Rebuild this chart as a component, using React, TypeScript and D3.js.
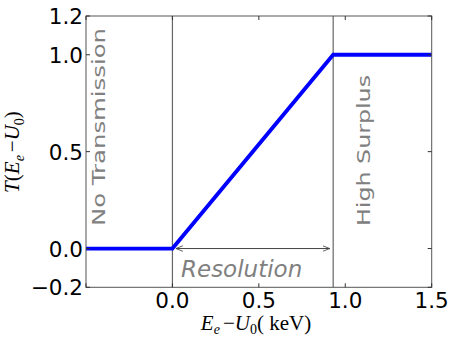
import React from "react";
import * as d3 from "d3";

const width = 474;
const height = 339;

// transmission curve T(E_e - U_0)
const energy = [-0.5, 0.0, 0.93, 1.5];
const transmission = [0, 0, 1, 1];
const resolutionEdges = [0.0, 0.93];

const xTicks = [-0.5, 0.0, 0.5, 1.0, 1.5];
const xTickLabels = ["", "0.0", "0.5", "1.0", "1.5"];
const yTicks = [-0.2, 0.0, 0.5, 1.0, 1.2];
const yTickLabels = ["\u22120.2", "0.0", "0.5", "1.0", "1.2"];

const x = d3.scaleLinear().domain([-0.5, 1.5]).range([86, 431.7]);
const y = d3.scaleLinear().domain([-0.2, 1.2]).range([287.3, 16]);

const sans = "DejaVu Sans, sans-serif";
const serif = "Liberation Serif, DejaVu Serif, serif";
const grey = "#808080";

export default function App() {
  const line = d3
    .line<number>()
    .x((_, i) => x(energy[i]))
    .y((d) => y(d));

  const [x0, x1] = x.range();
  const [y0, y1] = y.range();
  const tick = 4;

  return (
    <svg width={width} height={height} style={{ position: "absolute", left: 0, top: 0 }}>
      <defs>
        <marker id="ah" viewBox="0 0 10 10" refX="10" refY="5" markerWidth="7" markerHeight="7" orient="auto-start-reverse">
          <path d="M0,1 L10,5 L0,9" fill="none" stroke="#444" strokeWidth="1.2" />
        </marker>
      </defs>
      <rect x={0} y={0} width={width} height={height} fill="#fff" />

      {/* region borders */}
      {resolutionEdges.map((e) => (
        <line key={e} x1={x(e)} x2={x(e)} y1={y0} y2={y1} stroke="#666" strokeWidth={1.2} />
      ))}

      {/* resolution arrow */}
      <line
        x1={x(0.02)}
        x2={x(0.91)}
        y1={y(0)}
        y2={y(0)}
        stroke="#444"
        strokeWidth={1}
        markerStart="url(#ah)"
        markerEnd="url(#ah)"
      />

      <path d={line(transmission) || ""} fill="none" stroke="#0000ff" strokeWidth={3.8} />

      {/* spines */}
      <rect x={x0} y={y1} width={x1 - x0} height={y0 - y1} fill="none" stroke="#555" strokeWidth={1} />

      {/* ticks */}
      {xTicks.map((t, i) => (
        <g key={"x" + t}>
          <line x1={x(t)} x2={x(t)} y1={y0} y2={y0 - tick} stroke="#333" />
          <line x1={x(t)} x2={x(t)} y1={y1} y2={y1 + tick} stroke="#333" />
          <text x={x(t)} y={308} textAnchor="middle" fontFamily={sans} fontSize={21.5} fill="#000">
            {xTickLabels[i]}
          </text>
        </g>
      ))}
      {yTicks.map((t, i) => (
        <g key={"y" + t}>
          <line x1={x0} x2={x0 + tick} y1={y(t)} y2={y(t)} stroke="#333" />
          <line x1={x1} x2={x1 - tick} y1={y(t)} y2={y(t)} stroke="#333" />
          <text x={83} y={y(t) + 8} textAnchor="end" fontFamily={sans} fontSize={21.5} fill="#000">
            {yTickLabels[i]}
          </text>
        </g>
      ))}

      {/* annotations */}
      <text
        transform={`translate(105,226) rotate(-90) scale(1,0.8)`}
        fontFamily={sans}
        fontSize={23}
        fill={grey}
        textLength={198}
        lengthAdjust="spacingAndGlyphs"
      >
        No Transmission
      </text>
      <text
        transform={`translate(370,226) rotate(-90) scale(1,0.8)`}
        fontFamily={sans}
        fontSize={23}
        fill={grey}
        textLength={151}
        lengthAdjust="spacingAndGlyphs"
      >
        High Surplus
      </text>
      <text x={181} y={277} fontFamily={sans} fontStyle="italic" fontSize={23} fill={grey}>
        Resolution
      </text>

      {/* axis labels */}
      <text x={256} y={330} textAnchor="middle" fontFamily={serif} fontSize={21} fill="#000">
        <tspan fontStyle="italic">E</tspan>
        <tspan fontStyle="italic" fontSize={14} dy={4}>e</tspan>
        <tspan dy={-4} dx={3}>{"\u2212"}</tspan>
        <tspan fontStyle="italic">U</tspan>
        <tspan fontSize={14} dy={4}>0</tspan>
        <tspan dy={-4}>{"( keV)"}</tspan>
      </text>
      <text transform="translate(19,152) rotate(-90)" textAnchor="middle" fontFamily={serif} fontSize={21} fill="#000">
        <tspan fontStyle="italic">T</tspan>
        <tspan>(</tspan>
        <tspan fontStyle="italic">E</tspan>
        <tspan fontStyle="italic" fontSize={14} dy={5}>e</tspan>
        <tspan dy={-5} dx={3}>{"\u2212"}</tspan>
        <tspan fontStyle="italic">U</tspan>
        <tspan fontSize={14} dy={5}>0</tspan>
        <tspan dy={-5}>)</tspan>
      </text>
    </svg>
  );
}
